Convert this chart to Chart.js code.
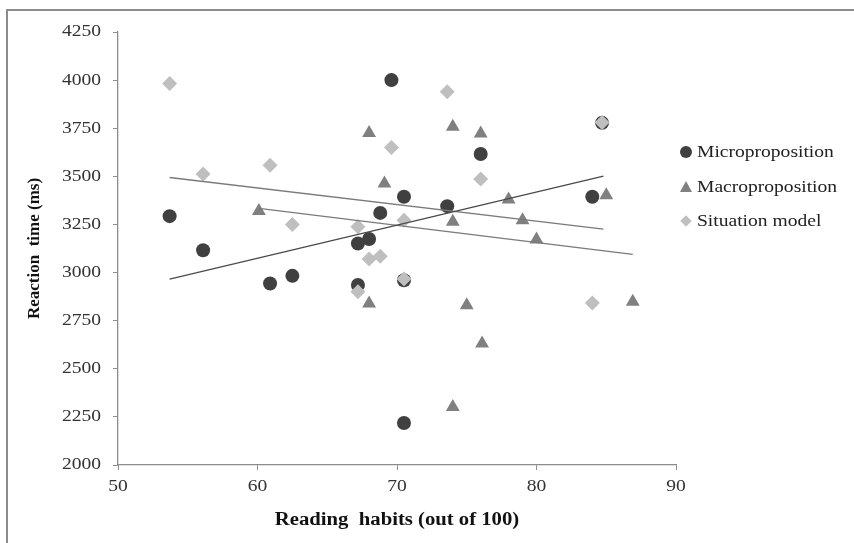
<!DOCTYPE html>
<html>
<head>
<meta charset="utf-8">
<script src="https://cdn.jsdelivr.net/npm/chart.js@4.4.1/dist/chart.umd.min.js"></script>
<style>
  html, body { margin: 0; padding: 0; background: #fff; }
  #wrap { position: relative; width: 854px; height: 543px; overflow: hidden; }
  #frame { position: absolute; left: 6px; top: 9px; width: 900px; height: 600px;
           border-top: 2px solid #8c8c8c; border-left: 2px solid #8c8c8c; box-sizing: border-box; }
  canvas { position: absolute; left: 0; top: 0; }
  #legend { position: absolute; left: 679px; top: 140px; font-family: "Liberation Serif", serif;
            font-size: 17px; color: #222; }
  .item { position: relative; height: 34.5px; line-height: 24px; padding-left: 18px; white-space: nowrap; }
  .txt { display: inline-block; transform: scaleX(1.15); transform-origin: left center; }
  .mk { position: absolute; }
  .circle { width: 12px; height: 12px; border-radius: 50%; background: #404040; left: 1px; top: 6px; }
  .tri { width: 0; height: 0; border-left: 6.5px solid transparent; border-right: 6.5px solid transparent;
         border-bottom: 11px solid #808080; left: 1px; top: 6px; }
  .dia { width: 8px; height: 8px; background: #bfbfbf; transform: rotate(45deg); left: 3px; top: 8px; }
</style>
</head>
<body>
<div id="wrap">
  <div id="frame"></div>
  <canvas id="c" width="854" height="543"></canvas>
  <div id="legend">
    <div class="item"><span class="mk circle"></span><span class="txt">Microproposition</span></div>
    <div class="item"><span class="mk tri"></span><span class="txt">Macroproposition</span></div>
    <div class="item"><span class="mk dia"></span><span class="txt">Situation model</span></div>
  </div>
</div>
<script>
// ---- Data ----
const seriesNames = ["Microproposition", "Macroproposition", "Situation model"];

const microX = [53.7, 56.1, 60.9, 62.5, 67.2, 67.2, 68.0, 68.8, 69.6, 70.5, 70.5, 70.5, 73.6, 76.0, 84.0, 84.7];
const microY = [3293, 3116, 2943, 2983, 2935, 3151, 3174, 3310, 4000, 3394, 2960, 2218, 3345, 3616, 3394, 3778];

const macroX = [60.1, 68.0, 68.0, 69.1, 74.0, 74.0, 74.0, 75.0, 76.0, 76.1, 78.0, 79.0, 80.0, 85.0, 86.9];
const macroY = [3320, 3725, 2839, 3463, 3758, 3264, 2302, 2830, 3723, 2631, 3380, 3272, 3172, 3402, 2848];

const situX = [53.7, 56.1, 60.9, 62.5, 67.2, 67.2, 68.0, 68.8, 69.6, 70.5, 70.5, 73.6, 76.0, 84.0, 84.7];
const situY = [3983, 3512, 3558, 3250, 3238, 2900, 3070, 3085, 3650, 3272, 2967, 3940, 3486, 2842, 3780];

// Linear trend lines (end points)
const microTrendX = [53.7, 84.8];
const microTrendY = [2966, 3501];
const macroTrendX = [60.1, 86.9];
const macroTrendY = [3333, 3094];
const situTrendX = [53.7, 84.8];
const situTrendY = [3494, 3226];

const xTicks = [50, 60, 70, 80, 90];
const yTicks = [2000, 2250, 2500, 2750, 3000, 3250, 3500, 3750, 4000, 4250];
const xTitle = "Reading  habits (out of 100)";
const yTitle = "Reaction  time (ms)";

const pts = (xs, ys) => xs.map((x, i) => ({ x: x, y: ys[i] }));

// The reference's horizontal text is slightly widened; stretch un-rotated canvas text.
const canvas = document.getElementById("c");
const ctx2d = canvas.getContext("2d");
const TEXT_STRETCH = 1.15;
const baseFill = ctx2d.fillText.bind(ctx2d);
ctx2d.fillText = function (t, x, y, mw) {
  const m = this.getTransform();
  if (Math.abs(m.b) > 1e-6 || Math.abs(m.c) > 1e-6) { return mw === undefined ? baseFill(t, x, y) : baseFill(t, x, y, mw); }
  this.save();
  this.translate(x, y);
  this.scale(TEXT_STRETCH, 1);
  if (mw === undefined) baseFill(t, 0, 0); else baseFill(t, 0, 0, mw);
  this.restore();
};

const axisColor = "#8c8c8c";
const tickFont = { family: "'Liberation Serif', serif", size: 17 };
const titleFont = { family: "'Liberation Serif', serif", size: 18, weight: "bold" };

new Chart(canvas, {
  type: "scatter",
  data: {
    datasets: [
      { type: "line", data: pts(microTrendX, microTrendY), borderColor: "#4a4a4a", borderWidth: 1.3,
        pointRadius: 0, fill: false, order: 0 },
      { type: "line", data: pts(macroTrendX, macroTrendY), borderColor: "#7a7a7a", borderWidth: 1.3,
        pointRadius: 0, fill: false, order: 0 },
      { type: "line", data: pts(situTrendX, situTrendY), borderColor: "#7a7a7a", borderWidth: 1.3,
        pointRadius: 0, fill: false, order: 0 },
      { label: seriesNames[2], data: pts(situX, situY), pointStyle: "rectRot", pointRadius: 7.5,
        backgroundColor: "#bfbfbf", borderColor: "#bfbfbf", borderWidth: 0, order: 1 },
      { label: seriesNames[1], data: pts(macroX, macroY), pointStyle: "triangle", pointRadius: 8,
        backgroundColor: "#808080", borderColor: "#808080", borderWidth: 0, order: 2 },
      { label: seriesNames[0], data: pts(microX, microY), pointStyle: "circle", pointRadius: 7,
        backgroundColor: "#404040", borderColor: "#404040", borderWidth: 0, order: 3 }
    ]
  },
  options: {
    responsive: false,
    animation: false,
    events: [],
    layout: { padding: { left: 20, top: 32, right: 178, bottom: 0 } },
    plugins: { legend: { display: false }, tooltip: { enabled: false } },
    scales: {
      x: {
        type: "linear", min: xTicks[0], max: xTicks[xTicks.length - 1],
        afterBuildTicks: s => { s.ticks = xTicks.map(v => ({ value: v })); },
        afterFit: s => { s.height = 78; },
        ticks: { font: tickFont, color: "#333", padding: 6, callback: v => String(v) },
        grid: { drawOnChartArea: false, drawTicks: true, tickLength: 5, tickColor: axisColor, lineWidth: 1 },
        border: { color: axisColor, width: 1.3 },
        title: { display: true, text: xTitle, font: titleFont, color: "#111", padding: { top: 4, bottom: 12 } }
      },
      y: {
        type: "linear", min: yTicks[0], max: yTicks[yTicks.length - 1],
        afterBuildTicks: s => { s.ticks = yTicks.map(v => ({ value: v })); },
        afterFit: s => { s.width = 98; },
        ticks: { font: tickFont, color: "#333", padding: 12, callback: v => String(v) },
        grid: { drawOnChartArea: false, drawTicks: true, tickLength: 5, tickColor: axisColor, lineWidth: 1 },
        border: { color: axisColor, width: 1.3 },
        title: { display: true, text: yTitle, font: { family: "'Liberation Serif', serif", size: 17, weight: "bold" },
                 color: "#111", padding: { top: 4, bottom: 4 } }
      }
    }
  }
});
</script>
</body>
</html>
